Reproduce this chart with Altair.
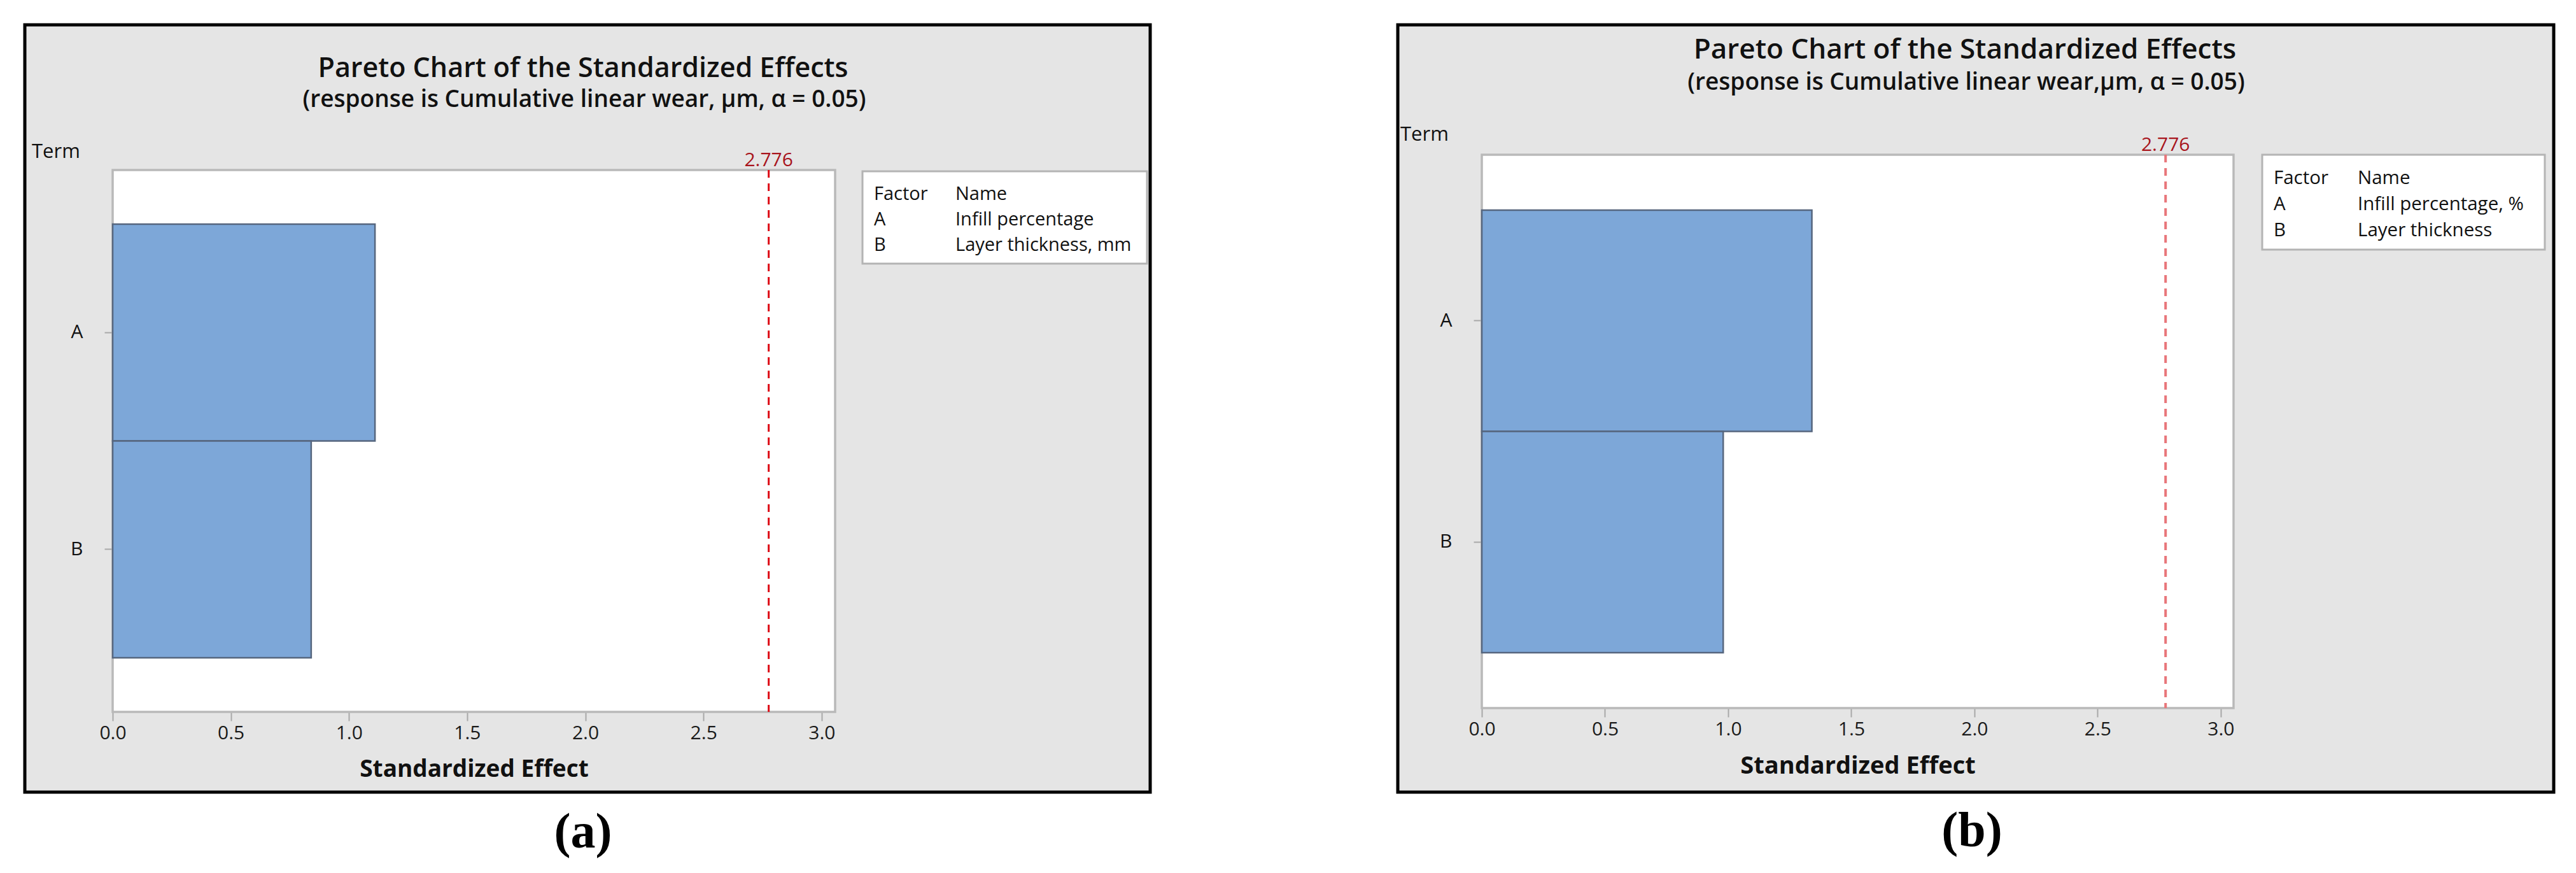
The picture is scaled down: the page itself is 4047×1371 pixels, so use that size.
import altair as alt
import pandas as pd

# ---------------- data ----------------
terms = ["A", "B"]
effects_a = [1.11, 0.84]
effects_b = [1.34, 0.98]
critical = 2.776
x_ticks = [0.0, 0.5, 1.0, 1.5, 2.0, 2.5, 3.0]
chart_title = "Pareto Chart of the Standardized Effects"
subtitle_a = "(response is Cumulative linear wear, µm, α = 0.05)"
subtitle_b = "(response is Cumulative linear wear,µm, α = 0.05)"
legend_factors = ["Factor", "A", "B"]
legend_names_a = ["Name", "Infill percentage", "Layer thickness, mm"]
legend_names_b = ["Name", "Infill percentage, %", "Layer thickness"]
x_title = "Standardized Effect"
y_title = "Term"
captions = ["(a)", "(b)"]
x_max_a = 3.057
x_max_b = 3.052

FONT = "Open Sans"
H = 1205


def panel(effects, x_max, subtitle, names, caption, L, dash_color, dash_width):
    df = pd.DataFrame({"term": terms, "effect": effects})
    crit_df = pd.DataFrame({"crit": [critical], "label": [f"{critical:.3f}"]})
    bg_df = pd.DataFrame({"lo": [0.0], "hi": [x_max]})
    one = pd.DataFrame({"k": [0]})

    xscale = alt.Scale(domain=[0, x_max], range=[L["x0"], L["x1"]], nice=False)
    xaxis = alt.Axis(
        title=x_title, values=x_ticks, format=".1f", offset=L["y1"] - H,
        domain=False, grid=False, tickSize=14, tickWidth=2, tickColor="#a8a8a8",
        labelFontSize=30, labelColor="#1a1a1a", labelFont=FONT, labelPadding=4,
        labelFlush=False, titleFont=FONT, titleFontSize=L["axsize"], titleFontWeight="bold",
        titleColor="#111111", titlePadding=24,
    )
    yscale = alt.Scale(domain=terms, range=[L["y0"], L["y1"]], paddingInner=0, paddingOuter=0.25)
    yaxis = alt.Axis(
        title=None, offset=-L["x0"], domain=False, grid=False, tickSize=13, tickWidth=2,
        tickColor="#a8a8a8", labelFontSize=30, labelColor="#111111", labelFont=FONT,
        labelPadding=34,
    )

    bg = alt.Chart(bg_df).mark_rect(fill="white", stroke="#b9b9b9", strokeWidth=3.5).encode(
        x=alt.X("lo:Q", scale=xscale, axis=xaxis),
        x2="hi:Q",
        y=alt.value(L["y0"]),
        y2=alt.value(L["y1"]),
    )
    bars = alt.Chart(df).mark_bar(color="#7da7d8", stroke="#56667e", strokeWidth=2.5).encode(
        x=alt.X("effect:Q", scale=xscale, axis=xaxis),
        y=alt.Y("term:N", scale=yscale, axis=yaxis, sort=terms),
    )
    rule = alt.Chart(crit_df).mark_rule(color=dash_color, strokeWidth=dash_width, strokeDash=[12, 9]).encode(
        x=alt.X("crit:Q", scale=xscale, axis=xaxis),
        y=alt.value(L["y0"]),
        y2=alt.value(L["y1"]),
    )
    crit_label = alt.Chart(crit_df).mark_text(
        font=FONT, fontSize=30, color="#a8141c", baseline="alphabetic", align="center", dy=-6
    ).encode(
        x=alt.X("crit:Q", scale=xscale, axis=xaxis),
        y=alt.value(L["y0"]),
        text="label:N",
    )

    def txt(text, x, y, size, weight="normal", align="center", font=FONT, color="#111111", lh=None):
        kw = dict(font=font, fontSize=size, fontWeight=weight, align=align, baseline="alphabetic", color=color)
        if lh is not None:
            kw["lineHeight"] = lh
        return alt.Chart(one).mark_text(**kw).encode(
            x=alt.value(x), y=alt.value(y), text=alt.value(text)
        )

    t1 = txt(chart_title, L["tx"], L["ty"], L["tsize"], weight=600)
    t2 = txt(subtitle, L["sx"], L["sy"], L["ssize"], weight=600)
    term = txt(y_title, L["termx"], L["termy"], 31, align="left")
    box = alt.Chart(one).mark_rect(fill="white", stroke="#b4b4b4", strokeWidth=3).encode(
        x=alt.value(L["bx0"]), x2=alt.value(L["bx1"]), y=alt.value(L["by0"]), y2=alt.value(L["by1"])
    )
    col1 = txt(legend_factors, L["fx"], L["fy"], L["lsize"], align="left", lh=L["lh"])
    col2 = txt(names, L["nx"], L["fy"], L["lsize"], align="left", lh=L["lh"])
    cap = txt(caption, L["cx"], L["cy"], 78, weight="bold", font="Liberation Serif", color="#000000")

    return alt.layer(bg, bars, rule, crit_label, t1, t2, term, box, col1, col2, cap).properties(
        width=L["W"], height=H
    )


LA = dict(W=1768, x0=138, x1=1273, y0=228, y1=1079,
          tx=877, ty=82, tsize=43, sx=879, sy=129, ssize=37, axsize=37,
          termx=11, termy=209,
          bx0=1316, bx1=1763, by0=230, by1=375, fx=1334, nx=1462, fy=275, lh=40, lsize=29,
          cx=877, cy=1292)
LB = dict(W=1816, x0=132, x1=1313, y0=204, y1=1073,
          tx=891, ty=53, tsize=44, sx=893, sy=102, ssize=37, axsize=38,
          termx=4, termy=182,
          bx0=1358, bx1=1802, by0=204, by1=353, fx=1376, nx=1508, fy=250, lh=41, lsize=29.5,
          cx=902, cy=1290)

pa = panel(effects_a, x_max_a, subtitle_a, legend_names_a, captions[0], LA, "#dd0a14", 3)
pb = panel(effects_b, x_max_b, subtitle_b, legend_names_b, captions[1], LB, "#e8767a", 4)

chart = alt.hconcat(pa, pb, spacing=383).configure_view(
    fill="#e5e5e5", stroke="#000000", strokeWidth=5
).properties(
    padding={"left": 28, "top": 28, "right": 6, "bottom": 4}, background="white"
)

chart.save("out.html", embed_options={"renderer": "svg", "actions": False})
